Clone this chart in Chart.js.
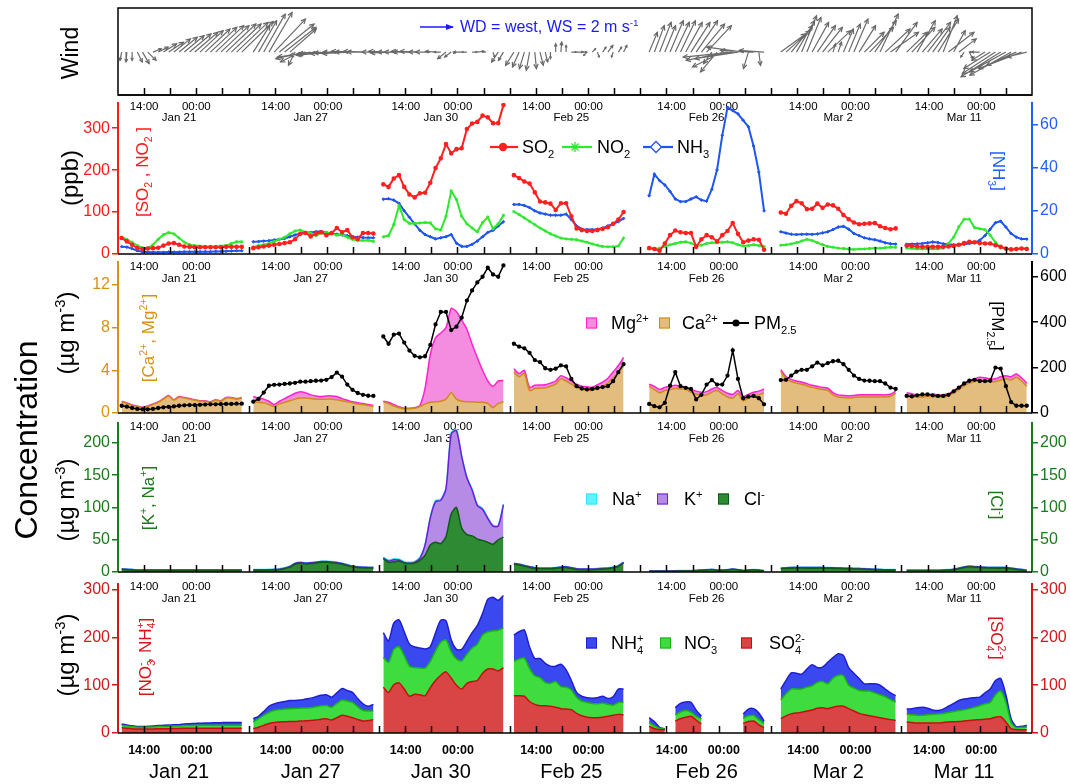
<!DOCTYPE html>
<html>
<head>
<meta charset="utf-8">
<title>Wind and concentration episodes</title>
<script src="https://cdn.jsdelivr.net/npm/chart.js@4.4.1/dist/chart.umd.min.js"></script>
<style>
  body { margin: 0; background: #fff; }
  #page { position: relative; width: 1070px; height: 784px; overflow: hidden; font-family: "Liberation Sans", Arial, sans-serif; }
  #page canvas { position: absolute; left: 0; }
  .t { position: absolute; white-space: nowrap; line-height: 1; }
  .up { transform: translate(-50%, -50%) rotate(-90deg); }
  .down { transform: translate(-50%, -50%) rotate(90deg); }
  .mid { transform: translateY(-50%); }
  sub, sup { font-size: 0.62em; line-height: 0; }
  sup.bk { margin-left: -0.56em; }
  .sw { position: absolute; width: 9px; height: 9px; transform: translateY(-50%); border: 1.5px solid; }
  svg.key { position: absolute; transform: translateY(-50%); overflow: visible; }
</style>
</head>
<body>
<div id="page">
  <canvas id="windChart" width="1070" height="130" style="top:0px"></canvas>
  <canvas id="gasChart" width="1070" height="200" style="top:87px"></canvas>
  <canvas id="dustChart" width="1070" height="200" style="top:246px"></canvas>
  <canvas id="saltChart" width="1070" height="200" style="top:407px"></canvas>
  <canvas id="sniaChart" width="1070" height="216" style="top:568px"></canvas>

  <!-- left titles -->
  <div class="t up" style="left:70px;top:53px;font-size:23px">Wind</div>
  <div class="t up" style="left:70px;top:178px;font-size:24px">(ppb)</div>
  <div class="t up" style="left:26px;top:440px;font-size:32px">Concentration</div>
  <div class="t up" style="left:66px;top:333px;font-size:24px">(µg m<sup>-3</sup>)</div>
  <div class="t up" style="left:66px;top:500px;font-size:24px">(µg m<sup>-3</sup>)</div>
  <div class="t up" style="left:66px;top:655px;font-size:24px">(µg m<sup>-3</sup>)</div>

  <!-- bracket axis names inside the panels -->
  <div class="t up" style="left:142px;top:172px;font-size:17px;color:#ff1a1a">[SO<sub>2</sub> , NO<sub>2</sub> ]</div>
  <div class="t down" style="left:998px;top:171px;font-size:17px;color:#1f5fff">[NH<sub>3</sub>]</div>
  <div class="t up" style="left:148px;top:338px;font-size:17px;color:#d69214">[Ca<sup>2+</sup>, Mg<sup>2+</sup>]</div>
  <div class="t down" style="left:997px;top:326px;font-size:17px;color:#000">[PM<sub>2.5</sub>]</div>
  <div class="t up" style="left:148px;top:498px;font-size:17px;color:#1b7a1b">[K<sup>+</sup>, Na<sup>+</sup>]</div>
  <div class="t down" style="left:996px;top:505px;font-size:17px;color:#1b7a1b">[Cl<sup>-</sup>]</div>
  <div class="t up" style="left:145px;top:657px;font-size:17px;color:#d4161b">[NO<sub>3</sub><sup class="bk">-</sup>, NH<sub>4</sub><sup class="bk">+</sup>]</div>
  <div class="t down" style="left:996px;top:638px;font-size:17px;color:#d4161b">[SO<sub>4</sub><sup class="bk">2-</sup>]</div>

  <!-- wind key -->
  <svg class="key" style="left:418px;top:27px" width="38" height="10">
    <line x1="2" y1="5" x2="35" y2="5" stroke="#1a1aff" stroke-width="1.6"/>
    <path d="M28 2 L36 5 L28 8 Z" fill="#1a1aff"/>
  </svg>
  <div class="t mid" style="left:460px;top:27px;font-size:16px;color:#1a1aff">WD = west, WS = 2 m s<sup>-1</sup></div>

  <!-- gas legend -->
  <svg class="key" style="left:490px;top:147px" width="28" height="12">
    <line x1="0" y1="6" x2="28" y2="6" stroke="#ff2020" stroke-width="2.2"/>
    <circle cx="13" cy="6" r="4.2" fill="#ff2020"/>
  </svg>
  <div class="t mid" style="left:522px;top:147px;font-size:18px">SO<sub>2</sub></div>
  <svg class="key" style="left:562px;top:147px" width="30" height="12">
    <line x1="0" y1="6" x2="30" y2="6" stroke="#2ee82e" stroke-width="2.2"/>
    <path d="M13 1 L13 11 M8 6 L18 6 M9.5 2.5 L16.5 9.5 M16.5 2.5 L9.5 9.5" stroke="#2ee82e" stroke-width="1.3"/>
  </svg>
  <div class="t mid" style="left:597px;top:147px;font-size:18px">NO<sub>2</sub></div>
  <svg class="key" style="left:643px;top:147px" width="30" height="12">
    <line x1="0" y1="6" x2="30" y2="6" stroke="#1f55f0" stroke-width="2.2"/>
    <path d="M13 0.5 L18.5 6 L13 11.5 L7.5 6 Z" fill="#fff" stroke="#1f55f0" stroke-width="1.3"/>
  </svg>
  <div class="t mid" style="left:677px;top:147px;font-size:18px">NH<sub>3</sub></div>

  <!-- dust legend -->
  <span class="sw" style="left:586px;top:323px;background:#f48ce0;border-color:#ff22cc"></span>
  <div class="t mid" style="left:611px;top:323px;font-size:18px">Mg<sup>2+</sup></div>
  <span class="sw" style="left:659px;top:323px;background:#e3bd7d;border-color:#d18a17"></span>
  <div class="t mid" style="left:682px;top:323px;font-size:18px">Ca<sup>2+</sup></div>
  <svg class="key" style="left:723px;top:323px" width="26" height="10">
    <line x1="0" y1="5" x2="26" y2="5" stroke="#000" stroke-width="2"/>
    <circle cx="13" cy="5" r="3.6" fill="#000"/>
  </svg>
  <div class="t mid" style="left:754px;top:323px;font-size:18px">PM<sub>2.5</sub></div>

  <!-- salt legend -->
  <span class="sw" style="left:586px;top:499px;background:#5ff2ff;border-color:#33e6ff"></span>
  <div class="t mid" style="left:612px;top:499px;font-size:18px">Na<sup>+</sup></div>
  <span class="sw" style="left:657px;top:499px;background:#b58be6;border-color:#6a1fd8"></span>
  <div class="t mid" style="left:684px;top:499px;font-size:18px">K<sup>+</sup></div>
  <span class="sw" style="left:718px;top:499px;background:#2f8a34;border-color:#0d5c16"></span>
  <div class="t mid" style="left:744px;top:499px;font-size:18px">Cl<sup>-</sup></div>

  <!-- SNA legend -->
  <span class="sw" style="left:586px;top:643px;background:#3a48f0;border-color:#1f1fd0"></span>
  <div class="t mid" style="left:611px;top:643px;font-size:18px">NH<sub>4</sub><sup class="bk">+</sup></div>
  <span class="sw" style="left:660px;top:643px;background:#3fdc3f;border-color:#17b417"></span>
  <div class="t mid" style="left:684px;top:643px;font-size:18px">NO<sub>3</sub><sup class="bk">-</sup></div>
  <span class="sw" style="left:741px;top:643px;background:#d94545;border-color:#c41010"></span>
  <div class="t mid" style="left:769px;top:643px;font-size:18px">SO<sub>4</sub><sup class="bk">2-</sup></div>
</div>

<script>
// Episodes: hourly samples, first sample at roughly 10:00 of each date
const episodeDates = ['Jan 21', 'Jan 27', 'Jan 30', 'Feb 25', 'Feb 26', 'Mar 2', 'Mar 11'];
const episodeStart = [0.7, 25.9, 50.8, 75.8, 101.7, 126.9, 151.0]; // axis hours
const AXIS_HOURS = 175;
const TICK_HOURS = 5;

// Gases (ppb)
const so2 = [
  [38,30,22,14,12,13,14,15,20,25,26,22,18,17,16,16,16,16,16,16,17,17,17,17],
  [14,16,18,20,22,24,26,28,35,48,50,42,48,52,45,50,62,52,57,40,36,50,50,49],
  [166,160,180,188,160,142,135,145,146,170,205,228,262,240,250,252,298,311,315,330,326,312,312,355],
  [188,181,173,168,147,125,123,120,105,121,121,90,61,57,55,55,57,60,64,72,82,100],
  [14,12,8,25,45,56,52,50,50,17,35,45,40,30,45,55,74,48,28,32,35,34,10],
  [99,96,115,126,121,107,108,120,110,118,116,108,93,83,75,71,72,73,74,66,62,59,61],
  [20,19,18,17,17,17,17,17,18,19,22,26,29,28,26,25,25,21,17,13,11,12,13,12]
];
const no2 = [
  [40,35,28,20,15,14,22,35,46,51,48,38,28,22,20,19,18,18,18,19,20,25,29,29],
  [17,20,22,25,30,35,40,48,55,57,52,50,44,50,52,48,45,46,40,35,32,32,33,30],
  [41,44,70,115,82,73,73,74,75,74,60,57,90,150,130,90,72,62,53,75,88,60,72,92],
  [101,94,86,78,70,62,55,48,43,38,36,35,34,31,28,24,21,18,17,17,19,38],
  [14,13,14,18,22,25,28,29,26,20,21,25,27,27,28,29,27,22,19,20,22,20,18],
  [21,22,24,27,31,35,32,27,22,18,16,14,13,12,11,12,12,13,14,14,15,16,16],
  [14,13,12,12,12,12,12,14,25,40,65,83,83,63,60,58,45,28,15,12,11,12,13,14]
];
const nh3 = [
  [3.4,3.2,2.5,1.5,1.0,0.9,0.8,0.8,0.8,0.9,0.9,0.9,1.0,1.0,1.0,1.0,1.1,1.1,1.2,1.2,1.3,1.4,1.5,1.5],
  [5.7,5.8,6,6.2,6.5,6.8,7.2,8,8.8,9.5,10,10,10.3,10.5,10,9.5,9.2,8.8,8.5,8,7.8,7.6,7.5,7.5],
  [25.4,25.6,25,23.5,20,17,14,11,9,8,7,7.5,8,9,5,3.5,3.5,4.5,6,8,10,11,13,15],
  [23,23,22.5,21.5,20,19,18.5,18,18,18,18.5,16,13,11.5,11.3,11.3,11.5,12,13,14,15,16.5],
  [27,37,34,32,29,25.5,24.3,24.3,25.5,26.5,25,24.5,30,39,55,68,66.5,65,62,59,50,38,20],
  [10.3,9.7,9.2,9.0,9.1,9.2,9.1,9.3,9.8,10.3,11.3,12.5,12.8,11.5,9.5,8.5,7.5,7.0,6.6,6.0,5.2,4.8,4.6],
  [4.5,4.6,4.7,4.9,5.2,5.6,5.3,4.7,4.5,4.3,4.3,4.5,4.9,5.2,6.4,8.5,11.5,14.5,15.2,12.5,9.5,7.8,7.0,6.9]
];

// Ca2+, Mg2+ (ug m-3) and PM2.5 (ug m-3)
const ca = [
  [1.05,0.9,0.7,0.6,0.5,0.6,0.8,1.0,1.3,1.6,1.2,1.5,1.4,1.3,1.2,1.1,1.1,1.0,1.2,1.1,1.4,1.4,1.3,1.4],
  [1.05,1.0,0.95,0.8,0.6,0.85,1.0,1.15,1.3,1.4,1.4,1.35,1.3,1.3,1.3,1.3,1.25,1.15,1.05,0.95,0.85,0.8,0.7,0.6],
  [1.05,0.9,0.65,0.5,0.4,0.4,0.45,0.6,0.85,1.0,1.05,1.1,1.3,1.9,1.3,1.1,1.05,1.05,1.0,1.0,0.9,0.5,0.9,1.05],
  [3.85,3.4,3.7,2.1,2.3,2.33,2.35,2.5,2.7,3.2,3.0,2.7,2.4,2.2,2.15,2.12,2.3,2.5,2.8,3.3,3.8,4.4],
  [2.5,2.2,1.9,2.1,2.2,2.3,2.25,2.2,1.95,1.75,1.65,1.7,1.95,2.1,1.8,1.5,1.4,1.8,1.15,1.4,1.6,1.7,1.9],
  [3.9,3.2,2.95,2.8,2.7,2.55,2.4,2.3,2.2,2.12,1.7,1.5,1.45,1.4,1.45,1.5,1.5,1.5,1.5,1.5,1.5,1.55,1.85],
  [1.7,1.6,1.5,1.5,1.55,1.55,1.5,1.5,1.6,1.9,2.2,2.55,2.8,2.95,3.1,3.05,2.95,2.95,3.1,3.2,3.1,3.35,3.0,2.5]
];
const mg = [
  [0.05,0.05,0.05,0.05,0.05,0.05,0.05,0.05,0.05,0.05,0.05,0.05,0.05,0.05,0.05,0.05,0.05,0.05,0.05,0.05,0.05,0.05,0.05,0.05],
  [0.5,0.4,0.35,0.3,0.2,0.25,0.35,0.45,0.55,0.6,0.5,0.35,0.3,0.25,0.3,0.3,0.3,0.2,0.15,0.1,0.1,0.1,0.1,0.1],
  [0.05,0.1,0.15,0.1,0.05,0.05,0.05,0.1,1.5,4.5,6.0,6.4,6.7,7.9,8.2,7.6,6.8,5.4,4.2,3.0,2.1,2.0,2.1,2.0],
  [0.3,0.3,0.3,0.3,0.3,0.3,0.3,0.3,0.3,0.3,0.3,0.3,0.3,0.3,0.3,0.3,0.35,0.4,0.45,0.55,0.65,0.8],
  [0.2,0.3,0.3,0.3,0.3,0.3,0.25,0.25,0.25,0.3,0.3,0.3,0.3,0.3,0.3,0.35,0.35,0.3,0.4,0.35,0.35,0.35,0.35],
  [0.15,0.2,0.2,0.2,0.2,0.2,0.2,0.2,0.2,0.2,0.2,0.2,0.2,0.2,0.2,0.2,0.2,0.2,0.2,0.2,0.2,0.2,0.2],
  [0.2,0.2,0.2,0.2,0.2,0.2,0.2,0.2,0.2,0.2,0.2,0.2,0.25,0.25,0.25,0.25,0.25,0.25,0.3,0.3,0.3,0.3,0.3,0.3]
];
const pm25 = [
  [32,28,22,18,16,16,18,22,25,27,29,32,34,35,35,36,37,38,38,39,40,40,41,41],
  [50,62,90,120,124,125,128,130,133,138,138,140,142,143,146,158,178,160,125,102,88,80,76,75],
  [337,305,345,350,310,275,252,245,250,300,390,445,445,365,380,420,495,540,575,600,640,610,600,650],
  [305,292,285,265,233,224,197,190,195,210,205,150,118,108,104,106,110,114,118,140,180,215],
  [40,30,25,45,120,180,118,111,106,60,80,125,145,125,125,165,276,150,65,72,75,65,38],
  [145,146,165,182,190,190,205,222,210,220,228,230,215,190,165,150,143,142,140,140,130,112,106],
  [75,73,78,82,82,78,75,75,80,95,112,130,142,146,141,140,142,200,195,118,48,32,32,32]
];

// Na+, K+, Cl- (ug m-3)
const cl = [
  [4,3.5,3,2.5,2.5,2.5,2.5,2.5,2.5,2.5,2.5,2.5,2.5,2.5,2.5,2.5,2.5,2.5,2.5,2.5,2.5,2.5,2.5,2.5],
  [2.5,2.5,2.6,2.8,3,3.5,5,7.5,12,13.5,12.5,13,14,15,15,14.5,13.5,12,10,8,7,6.5,6.2,6],
  [21,15,16,17,14,13,14,18,26,42,46,44,55,90,100,68,58,56,51,49,46,43,50,54],
  [12,11,9,7,5.5,5,5,5,5.5,6.5,7,5.5,4,3.5,3.5,3.5,4,4.5,5,6,8.5,14],
  [1,1,1,1,1.2,1.3,1.5,1.5,1.5,2,2.5,3,3.5,2.5,2.5,3,4,3,2,2.5,3,2.5,1.5],
  [5,5.5,6,6.2,6.2,6,6,6,6,5.8,5.6,5.4,5.2,5,4.8,4.5,4.2,3.8,3.5,3,2.8,2.6,2.5],
  [2,2,2,2,2,2,2,2.2,2.5,3.5,5,7,8,7.5,7,6.5,6.2,6,6,6,5,4,3,2]
];
const k = [
  [0.7,0.7,0.7,0.7,0.7,0.7,0.7,0.7,0.7,0.7,0.7,0.7,0.7,0.7,0.7,0.7,0.7,0.7,0.7,0.7,0.7,0.7,0.7,0.7],
  [0.8,0.8,0.8,0.8,0.8,0.9,1,1,1.2,1.2,1.2,1.2,1.2,1.2,1.2,1.2,1.2,1.1,1,1,0.9,0.9,0.8,0.8],
  [0.5,2,3,1.5,0.5,0.5,1,3,16,42,63,67,74,124,119,111,88,71,52,48,37,28,21,50],
  [1,1,1,1,1,1,1,1,1,1,1,1,1,1,1,1,1,1,1,1,1,1],
  [0.5,0.5,0.5,0.5,0.5,0.5,0.5,0.5,0.5,0.5,0.5,0.5,0.5,0.5,0.5,0.5,0.5,0.5,0.5,0.5,0.5,0.5,0.5],
  [0.8,0.8,0.8,0.8,0.8,0.8,0.8,0.8,0.8,0.8,0.8,0.8,0.8,0.8,0.8,0.8,0.8,0.8,0.8,0.8,0.8,0.8,0.8],
  [0.8,0.8,0.8,0.8,0.8,0.8,0.8,0.8,0.8,0.8,0.8,0.8,0.8,0.8,0.8,0.8,0.8,0.8,0.8,0.8,0.8,0.8,0.8,0.8]
];
const na = [
  [0.4,0.4,0.4,0.4,0.4,0.4,0.4,0.4,0.4,0.4,0.4,0.4,0.4,0.4,0.4,0.4,0.4,0.4,0.4,0.4,0.4,0.4,0.4,0.4],
  [0.5,0.5,0.5,0.5,0.5,0.5,0.5,0.5,0.5,0.5,0.5,0.5,0.5,0.5,0.5,0.5,0.5,0.5,0.5,0.5,0.5,0.5,0.5,0.5],
  [1.5,1.5,1.5,1.5,1.5,1.5,1.5,1.5,1.5,1.5,1.5,1.5,1.5,1.5,1.5,1.5,1.5,1.5,1.5,1.5,1.5,1.5,1.5,1.5],
  [0.6,0.6,0.6,0.6,0.6,0.6,0.6,0.6,0.6,0.6,0.6,0.6,0.6,0.6,0.6,0.6,0.6,0.6,0.6,0.6,0.6,0.6],
  [0.3,0.3,0.3,0.3,0.3,0.3,0.3,0.3,0.3,0.3,0.3,0.3,0.3,0.3,0.3,0.3,0.3,0.3,0.3,0.3,0.3,0.3,0.3],
  [0.4,0.4,0.4,0.4,0.4,0.4,0.4,0.4,0.4,0.4,0.4,0.4,0.4,0.4,0.4,0.4,0.4,0.4,0.4,0.4,0.4,0.4,0.4],
  [0.4,0.4,0.4,0.4,0.4,0.4,0.4,0.4,0.4,0.4,0.4,0.4,0.4,0.4,0.4,0.4,0.4,0.4,0.4,0.4,0.4,0.4,0.4,0.4]
];

// SO4 2-, NO3-, NH4+ (ug m-3); null = no sample
const so4 = [
  [11,10,9,8.5,8.5,8.5,8.5,9,9,9,9.5,9.5,10,10,10,10,10,10,10,10,10,10,10,10],
  [9,12,16,20,22,23,23.5,24,24,25,25.5,26,27,29,30,27,32,37,35,32,28,25,26,28],
  [96,85,101,105,92,77,81,80,78,95,110,121,128,115,100,92,104,108,110,125,134,134,130,137],
  [78,78,77,66,60,57,57,56,54,51,50,49,41,36,33,32,32,33,35,37,39,38],
  [14,9,7,7,null,25,30,33,35,27,19,null,null,null,null,null,null,null,20,24,25,17,11],
  [30,36,40,42,43.5,46,48,52,53,51,54,56,56,51,46,41,38,36,34,32,30,28,26],
  [23,22,21,21,21,21,21,22,23,23.5,24,25,26,27,28,29,30,33,34,23,9,7,7,7]
];
const no3 = [
  [5,4.5,4,3.5,3.5,4,4,4.5,4.5,5,5,5,5.5,5.5,6,6,6,6,6,6,6,6,6,6],
  [14,18,21,23,25,26,26.5,27,27.5,27,27,27,28,28,27.5,27,30,32,32,32,27,22,20,18],
  [62,63,74,76,70,63,56,56,58,55,62,69,67,55,55,59,61,70,76,80,78,80,85,83],
  [72,77,80,69,60,59,49,48,54,46,46,41,34,31,31,30,29,30,25,21,25,26],
  [8,6,3,1,null,13,14,14,9,8,10,null,null,null,null,null,null,null,11,12,12,11,9],
  [39,46,52,50,48.5,50,51,54,55,52,61,65,64,49,48,48,50,52,50,48,46,42,39],
  [17,16,16,16,17,18,19,19,20,21.5,23,23.5,25,27,29,32,34,47,54,42,13,4,5,5]
];
const nh4 = [
  [3,2.5,2,1.5,1.5,1.5,2,2,2.5,2.5,3,3,3.5,4,4,4.5,5,5,5.5,5.5,6,6,6,6],
  [7,5,8,13,14,15,16,17,16.5,17,18.5,20,21,22,22.5,21,22,24,22,21,17,14,10,14],
  [52,45,55,56,50,46,43,42,40,31,38,46,40,25,20,24,27,32,39,45,68,70,63,68],
  [55,57,59,45,36,40,40,36,32,47,36,20,10,10,10,11,13,14,12,18,28,28],
  [10,9,2,0.5,null,15,18,18,20,13,6,null,null,null,null,null,null,null,9,14,14,14,5],
  [23,28,34,33,31,38,44,31,30,45,43,45,42,37,31,25,15,15,19,20,16,14,13],
  [10,13,16,17,14,9,7,9,13,17,21,22.5,22,20,18,23,28,30,26,15,8,2,2,4]
];

// Wind vector components (m s-1): u to the east, v to the north
const windU = [
  [-0.1,-0.05,0,0.3,0.4,0.5,0.5,0.6,0.8,0.9,1.0,1.1,1.2,1.3,1.4,1.4,1.5,1.6,1.7,1.7,1.8,1.8,1.9,1.9],
  [1.0,1.1,1.3,1.4,1.9,2.1,1.9,1.6,-0.4,-1.2,-1.8,-2.0,-1.6,-1.4,-1.8,-2.0,-1.6,-1.7,-1.5,-1.8,-1.6,-1.7,-1.5,-1.6],
  [-1.3,-1.2,-1.4,-1.3,-1.2,-1.1,-1.3,-1.2,-1.0,-0.9,-0.6,-0.4,-0.5,-0.4,-0.2,-0.5,-0.3,0.3,0.4,0.2,0,0.1,-0.4,-0.3],
  [-0.5,-0.4,-0.3,-0.2,0.1,0.2,0.15,0,0,0.05,0,0.3,0.4,0.3,-0.2,0.2,0.1,0.2,0.3,-0.1,0.2,0.2],
  [0.5,0.6,0.7,0.65,0.8,0.85,0.9,1.0,1.15,1.3,1.4,1.5,-0.5,-1.0,-1.8,-2.5,-3.0,-2.6,-2.2,-0.3,-2.0,0.1,-1.5],
  [1.5,1.45,1.3,1.1,0.9,0.85,1.0,1.1,1.2,1.4,0.15,0.2,0.6,0.7,0.85,1.0,1.2,1.45,1.3,1.1,1.5,1.7,1.3],
  [1.25,1.4,1.1,1.2,1.4,1.05,1.25,0.85,1.55,0.7,1.05,-0.2,0.2,-0.3,-0.5,-0.8,-1.6,-2.0,-2.4,-2.2,-2.5,-1.8,-2.6,-1.2]
];
const windV = [
  [-0.5,-0.6,-0.5,-0.6,-0.7,-0.5,0.2,0.3,0.5,0.6,0.8,0.9,1.0,1.1,1.2,1.3,1.4,1.5,1.6,1.6,1.7,1.7,1.8,1.85],
  [1.6,1.9,2.3,2.4,2.0,1.7,1.5,1.4,-0.8,-0.6,-0.4,-0.3,-0.2,-0.15,-0.2,-0.1,-0.1,-0.05,-0.1,0,0.05,0,0.05,0],
  [0,0.05,-0.05,0,0,0.05,0,0.05,0,0,0.05,0,-0.4,-0.3,-0.1,0,0,0,0.05,0,0,-0.3,-0.6,-0.5],
  [-0.8,-0.9,-1.0,-1.1,-1.0,-0.8,-0.6,-0.4,0.5,0.6,0.4,0,0,0,-0.2,0.2,-0.3,0.3,0.4,-0.3,0.3,0.4],
  [1.2,1.6,1.8,1.6,1.9,1.8,1.9,1.8,1.8,1.9,1.7,1.6,-0.7,-1.2,-0.9,-0.5,-0.3,-0.4,0.3,-1.0,0.1,-0.8,0.1],
  [1.1,1.3,1.6,1.9,2.2,2.1,1.8,1.6,1.5,1.3,0.5,0.6,1.4,1.7,2.0,1.6,1.2,1.5,1.9,2.3,1.4,1.2,1.8],
  [1.2,1.5,1.9,1.4,1.8,1.5,2.0,2.2,1.2,1.3,0.8,-0.3,-0.4,0,0,-0.5,-1.0,-1.3,-1.5,-1.2,-1.4,-0.8,-1.0,-0.3]
];
const WIND_H_PER_MS = 3.16; // hours of x-axis that match 1 m s-1 on the y-axis

const FONT = '"Liberation Sans", Arial, sans-serif';

function toPoints(episodes) {
  const pts = [];
  episodes.forEach((vals, e) => {
    vals.forEach((v, i) => pts.push({ x: episodeStart[e] + i, y: v }));
    pts.push({ x: episodeStart[e] + vals.length - 0.5, y: null });
  });
  return pts;
}

function windPoints() {
  const pts = [];
  windU.forEach((us, e) => us.forEach((u, i) => {
    const t = episodeStart[e] + i;
    pts.push({ x: t, y: 0 }, { x: t + u * WIND_H_PER_MS, y: windV[e][i] }, { x: t, y: null });
  }));
  return pts;
}

// bottom time axis: baseline, inward ticks and the episode labels
const timeAxis = {
  id: 'timeAxis',
  afterDatasetsDraw(chart, args, o) {
    const { ctx, chartArea: a } = chart;
    const x = chart.scales.x;
    ctx.save();
    ctx.strokeStyle = '#000';
    ctx.lineWidth = 1.5;
    if (o.box) ctx.strokeRect(a.left, a.top, a.right - a.left, a.bottom - a.top);
    ctx.beginPath();
    ctx.moveTo(a.left, a.bottom);
    ctx.lineTo(a.right, a.bottom);
    for (let h = TICK_HOURS; h < AXIS_HOURS; h += TICK_HOURS) {
      const px = Math.round(x.getPixelForValue(h)) + 0.5;
      ctx.moveTo(px, a.bottom);
      ctx.lineTo(px, a.bottom - 7);
    }
    ctx.stroke();
    ctx.fillStyle = '#000';
    ctx.textAlign = 'center';
    ctx.textBaseline = 'middle';
    episodeStart.forEach((s, e) => {
      ctx.font = o.timeFont;
      ctx.fillText('14:00', x.getPixelForValue(s + 4.3), a.bottom + o.timeDy);
      ctx.fillText('00:00', x.getPixelForValue(s + 14.3), a.bottom + o.timeDy);
      ctx.font = o.dateFont;
      ctx.fillText(episodeDates[e], x.getPixelForValue(s + 11), a.bottom + o.dateDy);
    });
    ctx.restore();
  }
};

// small heads on the wind sticks
const arrowHeads = {
  id: 'arrowHeads',
  afterDatasetsDraw(chart) {
    const pts = chart.getDatasetMeta(0).data;
    const ctx = chart.ctx;
    ctx.save();
    ctx.strokeStyle = '#666';
    ctx.lineWidth = 1.2;
    for (let i = 0; i + 1 < pts.length; i += 3) {
      const a = pts[i], b = pts[i + 1];
      const len = Math.hypot(b.x - a.x, b.y - a.y);
      if (!(len > 4)) continue;
      const ang = Math.atan2(b.y - a.y, b.x - a.x);
      const hl = Math.min(5, len * 0.35);
      ctx.beginPath();
      ctx.moveTo(b.x - hl * Math.cos(ang - 0.45), b.y - hl * Math.sin(ang - 0.45));
      ctx.lineTo(b.x, b.y);
      ctx.lineTo(b.x - hl * Math.cos(ang + 0.45), b.y - hl * Math.sin(ang + 0.45));
      ctx.stroke();
    }
    ctx.restore();
  }
};

function yAxis(pos, color, max, step, stacked) {
  return {
    type: 'linear', position: pos, min: 0, max: max, stacked: !!stacked,
    border: { color: color, width: 2 },
    grid: { drawOnChartArea: false, color: color, lineWidth: 1.5, tickLength: 6 },
    ticks: { color: color, stepSize: step, includeBounds: false, padding: 2, font: { family: FONT, size: 16 } },
    afterFit: s => { s.width = pos === 'left' ? 118 : 38; }
  };
}

const smallLabels = (timeDy, dateDy) => ({
  timeFont: '11.5px ' + FONT, dateFont: '11.5px ' + FONT, timeDy: timeDy, dateDy: dateDy
});

function options(padding, labels, scales) {
  return {
    responsive: false, animation: false, events: [], devicePixelRatio: 1,
    layout: { padding: padding },
    plugins: { legend: { display: false }, tooltip: { enabled: false }, timeAxis: labels },
    scales: Object.assign({ x: { type: 'linear', min: 0, max: AXIS_HOURS, display: false } }, scales)
  };
}

function area(label, values, fillTo, fillColor, lineColor) {
  return {
    label: label, data: toPoints(values), yAxisID: 'y', fill: fillTo,
    backgroundColor: fillColor, borderColor: lineColor, borderWidth: 1.5,
    pointRadius: 0, tension: 0.25, order: 1
  };
}

// Wind
new Chart(document.getElementById('windChart'), {
  type: 'line',
  data: { datasets: [{
    label: 'Wind', data: windPoints(), borderColor: '#6b6b6b', borderWidth: 1.2,
    pointRadius: 0, spanGaps: false
  }] },
  options: options({ top: 8, bottom: 35, left: 118, right: 38 },
    Object.assign(smallLabels(12, 23), { box: true }),
    { y: { type: 'linear', min: -2.6, max: 2.67, display: false } }),
  plugins: [timeAxis, arrowHeads]
});

// Gases
new Chart(document.getElementById('gasChart'), {
  type: 'line',
  data: { datasets: [
    { label: 'SO2', data: toPoints(so2), yAxisID: 'y', borderColor: '#ff2020', backgroundColor: '#ff2020',
      borderWidth: 2, pointRadius: 1.3, pointStyle: 'circle' },
    { label: 'NO2', data: toPoints(no2), yAxisID: 'y', borderColor: '#2ee82e', backgroundColor: '#2ee82e',
      borderWidth: 2, pointRadius: 1.6, pointStyle: 'star', pointBorderWidth: 1 },
    { label: 'NH3', data: toPoints(nh3), yAxisID: 'y1', borderColor: '#1f55f0', backgroundColor: '#1f55f0',
      borderWidth: 2, pointRadius: 1.4, pointStyle: 'rectRot', pointBorderWidth: 1 }
  ] },
  options: options({ top: 16, bottom: 33 }, smallLabels(13, 25), {
    y: yAxis('left', '#ff1a1a', 360, 100),
    y1: yAxis('right', '#1f5fff', 70, 20)
  }),
  plugins: [timeAxis]
});

// Ca2+, Mg2+, PM2.5
new Chart(document.getElementById('dustChart'), {
  type: 'line',
  data: { datasets: [
    { label: 'PM2.5', data: toPoints(pm25), yAxisID: 'y1', borderColor: '#000', backgroundColor: '#000',
      borderWidth: 1.5, pointRadius: 1.4, order: 0 },
    area('Ca2+', ca, 'origin', '#e3bd7d', '#d18a17'),
    area('Mg2+', mg, '-1', '#f48ce0', '#ff22cc')
  ] },
  options: options({ top: 16, bottom: 33 }, smallLabels(14, 26), {
    y: yAxis('left', '#d69214', 14.15, 4, true),
    y1: yAxis('right', '#000', 665, 200)
  }),
  plugins: [timeAxis]
});

// Na+, K+, Cl-
new Chart(document.getElementById('saltChart'), {
  type: 'line',
  data: { datasets: [
    area('Cl-', cl, 'origin', '#2f8a34', '#0d5c16'),
    area('K+', k, '-1', '#b58be6', '#6a1fd8'),
    area('Na+', na, '-1', '#5ff2ff', '#33e6ff')
  ] },
  options: options({ top: 16, bottom: 35 }, smallLabels(15, 27), {
    y: yAxis('left', '#1b7a1b', 231, 50, true),
    y1: yAxis('right', '#1b7a1b', 231, 50)
  }),
  plugins: [timeAxis]
});

// SO4 2-, NO3-, NH4+
new Chart(document.getElementById('sniaChart'), {
  type: 'line',
  data: { datasets: [
    area('SO4 2-', so4, 'origin', '#d94545', '#c41010'),
    area('NO3-', no3, '-1', '#3fdc3f', '#17b417'),
    area('NH4+', nh4, '-1', '#3a48f0', '#1f1fd0')
  ] },
  options: options({ top: 16, bottom: 51 },
    { timeFont: 'bold 12.5px ' + FONT, dateFont: '20px ' + FONT, timeDy: 18, dateDy: 39 }, {
    y: yAxis('left', '#d4161b', 312, 100, true),
    y1: yAxis('right', '#d4161b', 312, 100)
  }),
  plugins: [timeAxis]
});
</script>
</body>
</html>
